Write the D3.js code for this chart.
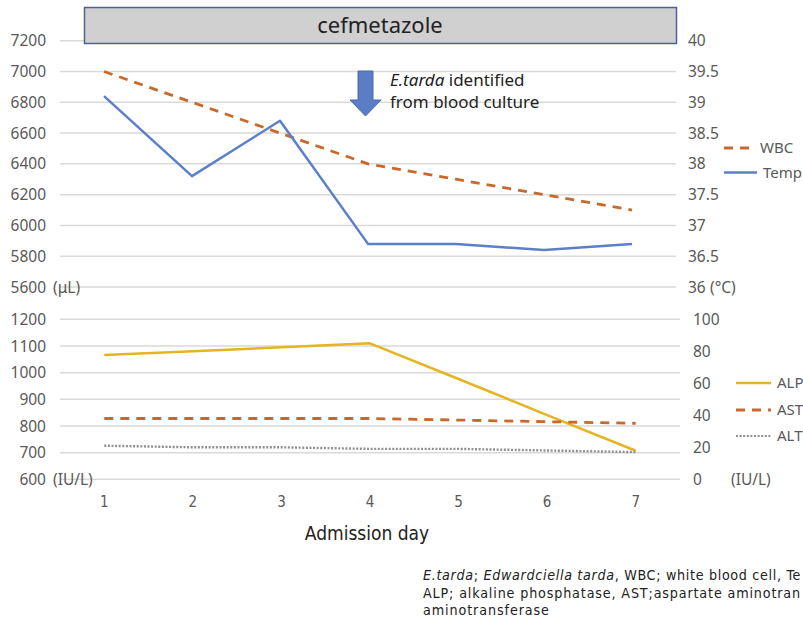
<!DOCTYPE html>
<html><head><meta charset="utf-8">
<script src="https://cdn.jsdelivr.net/npm/d3@7"></script>
<style>
body{margin:0;background:#fff;}
text{font-family:"Noto Sans","Noto Sans CJK JP",sans-serif;}
.narrow{font-family:"Liberation Sans Narrow","DejaVu Sans Condensed","Roboto",sans-serif;}
</style></head>
<body><svg id="c" width="803" height="620"></svg>
<script>
const days = [1,2,3,4,5,6,7];
const wbc = [7000,6800,6600,6400,6300,6200,6100];
const temp = [39.1,37.8,38.7,36.7,36.7,36.6,36.7];
const alp = [1066,1080,1095,1110,976,841,707];
const ast = [38,38,38,38,37,36,35];
const alt = [21,20,20,19,19,18,17];
const wbcTicks = [5600,5800,6000,6200,6400,6600,6800,7000,7200];
const tempTicks = [36,36.5,37,37.5,38,38.5,39,39.5,40];
const alpTicks = [600,700,800,900,1000,1100,1200];
const astTicks = [0,20,40,60,80,100];

const svg = d3.select("#c");
const gridC = "#d9d9d9", tickC = "#595959";
const cOrange = "#c8692c", cBlue = "#5b7fc9", cGold = "#e6b420", cGray = "#8f8f8f";

// top panel scales
const xT = d3.scaleBand().domain(days).range([60,676]);
const yTL = d3.scaleLinear().domain([5600,7200]).range([287,40.7]);
const yTR = d3.scaleLinear().domain([36,40]).range([287,40.7]);
// bottom panel scales
const xB = d3.scaleBand().domain(days).range([60,680]);
const yBL = d3.scaleLinear().domain([600,1200]).range([479.3,319.3]);
const yBR = d3.scaleLinear().domain([0,100]).range([479.3,319.3]);
const cx = (x,d)=>x(d)+x.bandwidth()/2;

// gridlines
svg.append("g").selectAll("line").data(wbcTicks).join("line")
  .attr("x1",60).attr("x2",676).attr("y1",d=>yTL(d)).attr("y2",d=>yTL(d))
  .attr("stroke",gridC).attr("stroke-width",1.5);
svg.append("g").selectAll("line").data(alpTicks).join("line")
  .attr("x1",60).attr("x2",680).attr("y1",d=>yBL(d)).attr("y2",d=>yBL(d))
  .attr("stroke",gridC).attr("stroke-width",1.5);

// axes labels
function axisText(ticks, scale, x, anchor, fmt){
  svg.append("g").selectAll("text").data(ticks).join("text")
    .attr("x",x).attr("y",d=>scale(d)).attr("dy","0.36em")
    .attr("text-anchor",anchor).attr("fill",tickC).attr("font-size",15.5)
    .text(fmt);
}
axisText(wbcTicks,yTL,46,"end",d=>d);
axisText(tempTicks,yTR,688,"start",d=>d);
axisText(alpTicks,yBL,46,"end",d=>d);
axisText(astTicks,yBR,693,"start",d=>d);
svg.append("text").attr("x",53).attr("y",yTL(5600)).attr("dy","0.36em").attr("fill",tickC).attr("font-size",15.5).text("(\u03bcL)");
svg.append("text").attr("x",710).attr("y",yTR(36)).attr("dy","0.36em").attr("fill",tickC).attr("font-size",15.5).text("(°C)");
svg.append("text").attr("x",53).attr("y",yBL(600)).attr("dy","0.36em").attr("fill",tickC).attr("font-size",15.5).text("(IU/L)");
svg.append("text").attr("x",731).attr("y",yBR(0)).attr("dy","0.36em").attr("fill",tickC).attr("font-size",15.5).text("(IU/L)");

// x axis labels
svg.append("g").selectAll("text").data(days).join("text").attr("class","narrow")
  .attr("x",d=>cx(xB,d)).attr("y",507).attr("text-anchor","middle")
  .attr("fill",tickC).attr("font-size",15).text(d=>d);
svg.append("text").attr("class","narrow").attr("x",367).attr("y",540).attr("text-anchor","middle")
  .attr("fill","#222").attr("font-size",19).text("Admission day");

// lines
function drawLine(vals,x,y,color,dash,w){
  const line = d3.line().x((d,i)=>cx(x,days[i])).y(d=>y(d));
  svg.append("path").datum(vals).attr("d",line).attr("fill","none")
    .attr("stroke",color).attr("stroke-width",w||2.5).attr("stroke-dasharray",dash||null)
    .attr("stroke-linejoin","round");
}
drawLine(wbc,xT,yTL,cOrange,"9,7",2.8);
drawLine(temp,xT,yTR,cBlue,null,2.5);
drawLine(alp,xB,yBL,cGold,null,2.5);
drawLine(ast,xB,yBR,cOrange,"9,7",2.8);
drawLine(alt,xB,yBR,cGray,"2,1.6",2.4);

// cefmetazole box
svg.append("rect").attr("x",84.5).attr("y",7.5).attr("width",592).attr("height",36)
  .attr("fill","#d0d0d0").attr("stroke","#4b6198").attr("stroke-width",1.5);
svg.append("text").attr("x",380).attr("y",33).attr("text-anchor","middle")
  .attr("fill","#222").attr("font-size",22).text("cefmetazole");

// arrow
svg.append("path").attr("d","M358,71 L373,71 L373,100 L381,100 L365.5,116 L350,100 L358,100 Z")
  .attr("fill","#5a7dc6").attr("stroke","#4a6bb0").attr("stroke-width",1);
const ann = svg.append("text").attr("x",390).attr("y",86).attr("fill","#222").attr("font-size",17);
ann.append("tspan").attr("font-style","italic").text("E.tarda");
ann.append("tspan").text(" identified");
svg.append("text").attr("x",390).attr("y",108).attr("fill","#222").attr("font-size",17).text("from blood culture");

// legends
function legend(x1,x2,y,color,dash,w,label){
  svg.append("line").attr("x1",x1).attr("x2",x2).attr("y1",y).attr("y2",y)
    .attr("stroke",color).attr("stroke-width",w).attr("stroke-dasharray",dash||null);
  svg.append("text").attr("x",x2+6).attr("y",y).attr("dy","0.36em").attr("fill",tickC).attr("font-size",15).text(label);
}
legend(724,754,148,cOrange,"9,7",2.8,"WBC");
legend(724,757,172.5,cBlue,null,2.5,"Temp");
legend(736,771,383,cGold,null,2.5,"ALP");
legend(736,771,410,cOrange,"9,7",2.8,"AST");
legend(736,771,436,cGray,"2,1.6",2.2,"ALT");

// caption (visible portion, as cropped in the reference)
const capFont = 14.2;
function fit(sel, target){
  const n = sel.text().length;
  const len = sel.node().getComputedTextLength();
  sel.attr("letter-spacing", ((target-len)/n).toFixed(3));
}
const c0 = svg.append("text").attr("class","narrow").attr("x",423).attr("y",580).attr("fill","#222").attr("font-size",capFont);
c0.append("tspan").attr("font-style","italic").text("E.tarda");
c0.append("tspan").text("; ");
c0.append("tspan").attr("font-style","italic").text("Edwardciella tarda");
c0.append("tspan").text(", WBC; white blood cell, Te");
fit(c0, 378);
const c1 = svg.append("text").attr("class","narrow").attr("x",423).attr("y",597.5).attr("fill","#222").attr("font-size",capFont).text("ALP; alkaline phosphatase, AST;aspartate aminotran");
fit(c1, 378);
const c2 = svg.append("text").attr("class","narrow").attr("x",423).attr("y",615).attr("fill","#222").attr("font-size",capFont).attr("letter-spacing",0.9).text("aminotransferase");
</script></body></html>
